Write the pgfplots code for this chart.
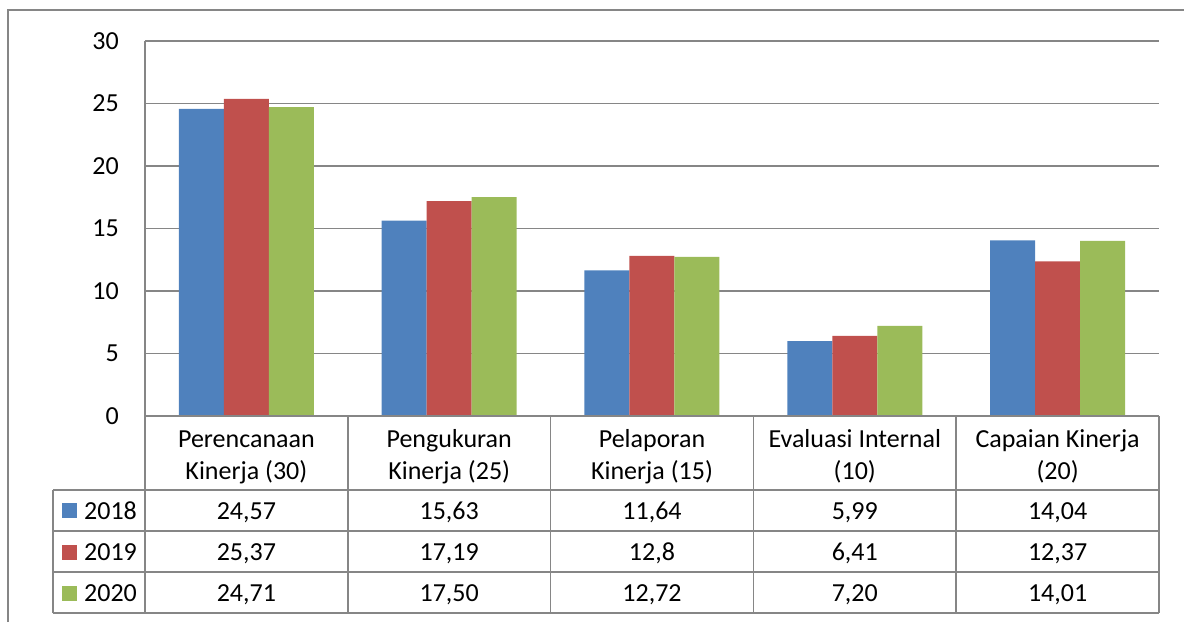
\documentclass[border=0pt]{standalone}
\usepackage{pgfplots}
\pgfplotsset{compat=1.18}
\usepackage{fontspec}
\setmainfont{Carlito}
\definecolor{c18}{RGB}{79,129,189}
\definecolor{c19}{RGB}{192,80,77}
\definecolor{c20}{RGB}{155,187,89}
\definecolor{gridc}{RGB}{134,134,134}
\begin{document}
\fontsize{26}{32}\selectfont
\begin{tikzpicture}[x=1pt,y=1pt]
\useasboundingbox (0,0) rectangle (1184,622);
\draw[gridc, line width=1.5pt] (8,0) -- (8,612) -- (1184,612);
\begin{axis}[at={(145pt,206pt)}, anchor=south west, scale only axis,
  width=1014pt, height=375pt,
  xmin=-0.5, xmax=4.5, ymin=0, ymax=30, ytick={0,5,...,30}, xtick=\empty,
  ymajorgrids, grid style={gridc, line width=1.5pt},
  axis line style={draw=none}, major tick length=0,
  ybar=0pt, bar width=45pt,
  yticklabel style={font=\fontsize{26}{32}\selectfont, anchor=east, inner sep=0pt, xshift=-26pt},
  /pgf/number format/assume math mode=true,
  clip=false]
\addplot[fill=c18, draw=none] coordinates {(0,24.57) (1,15.63) (2,11.64) (3,5.99) (4,14.04)};
\addplot[fill=c19, draw=none] coordinates {(0,25.37) (1,17.19) (2,12.8) (3,6.41) (4,12.37)};
\addplot[fill=c20, draw=none] coordinates {(0,24.71) (1,17.50) (2,12.72) (3,7.20) (4,14.01)};
\end{axis}
% table
\begin{scope}[gridc, line width=1.5pt]
\draw (145,9) -- (145,581);
\foreach \x in {347.8,550.6,753.4,956.2,1159} \draw (\x,9) -- (\x,206);
\draw (53,9) -- (53,132);
\draw (145,206) -- (1159,206);
\foreach \y in {132,91,50,9} \draw (53,\y) -- (1159,\y);
\end{scope}
\fill[c18] (62,104) rectangle (77,119);
\fill[c19] (62,62.5) rectangle (77,77.5);
\fill[c20] (62,21.5) rectangle (77,36.5);
\node[anchor=base west, inner sep=0pt] at (84,103) {2018};
\node[anchor=base west, inner sep=0pt] at (84,61.5) {2019};
\node[anchor=base west, inner sep=0pt] at (84,20.5) {2020};
% categories
\foreach \cx/\la/\lb in {246.4/Perencanaan/Kinerja (30), 449.2/Pengukuran/Kinerja (25), 652/Pelaporan/Kinerja (15), 854.8/Evaluasi Internal/(10), 1057.6/Capaian Kinerja/(20)} {
  \node[anchor=base, inner sep=0pt] at (\cx,175) {\la};
  \node[anchor=base, inner sep=0pt] at (\cx,143) {\lb};
}
% values
\foreach \cx/\a/\b/\c in {246.4/24{,}57/25{,}37/24{,}71, 449.2/15{,}63/17{,}19/17{,}50, 652/11{,}64/12{,}8/12{,}72, 854.8/5{,}99/6{,}41/7{,}20, 1057.6/14{,}04/12{,}37/14{,}01} {
  \node[anchor=base, inner sep=0pt] at (\cx,103) {\a};
  \node[anchor=base, inner sep=0pt] at (\cx,61.5) {\b};
  \node[anchor=base, inner sep=0pt] at (\cx,20.5) {\c};
}
\end{tikzpicture}
\end{document}
